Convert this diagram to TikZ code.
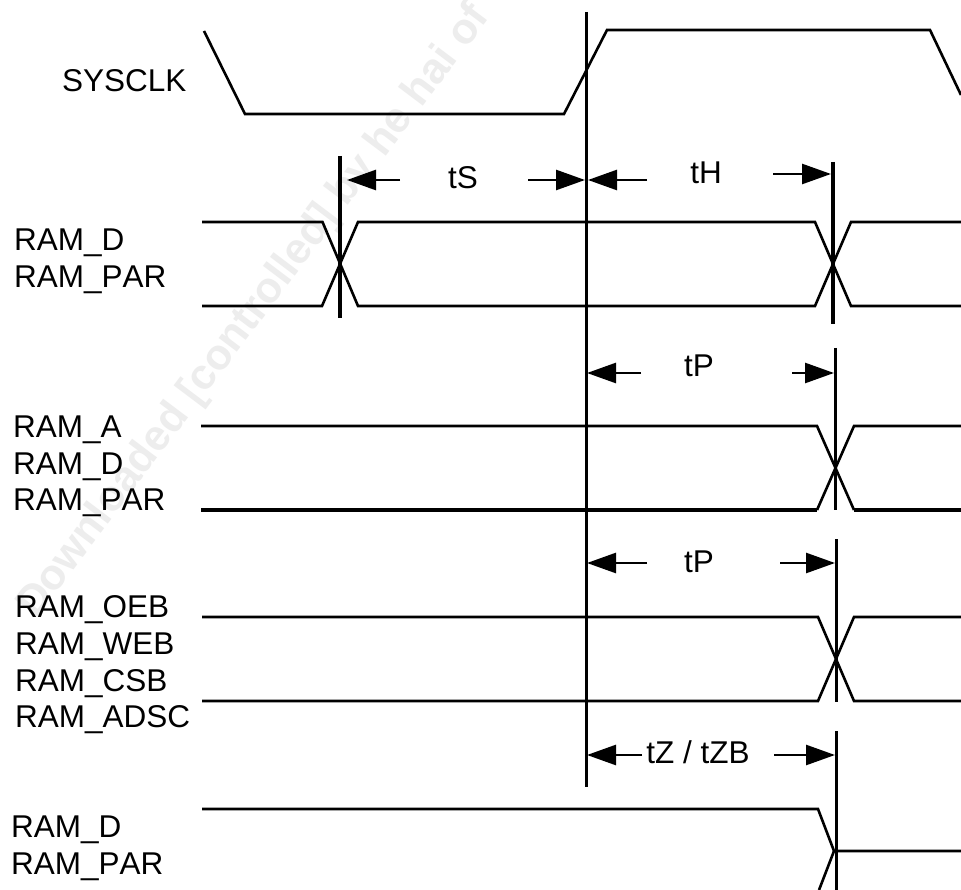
\documentclass[tikz,border=0pt]{standalone}
\usepackage{fontspec}
\setmainfont[Kerning=Off]{Liberation Sans}
\usetikzlibrary{arrows.meta}
\tikzset{
  wave/.style={line width=2.6pt,line join=miter},
  wavethick/.style={line width=3.4pt},
  marker/.style={line width=3pt},
  markerthick/.style={line width=3.3pt},
  dim/.style={line width=2.6pt,-{Triangle[length=29pt,width=20pt]}},
  lab/.style={anchor=base west,inner sep=0pt,font=\fontsize{31.5}{36}\selectfont},
  tim/.style={anchor=base,inner sep=0pt,font=\fontsize{31.5}{36}\selectfont},
  wm/.style={text=black!7,font=\bfseries\fontsize{43}{46}\selectfont,rotate=53,anchor=base west,inner sep=0pt}
}
\begin{document}
\begin{tikzpicture}[x=1pt,y=-1pt]
\useasboundingbox (0,0) rectangle (961,890);
\fill[white] (0,0) rectangle (961,890);
\node[wm] (wmark) at (36,620) {Downloaded [controlled] by he hai of};
% labels
\node[lab] (l1) at (62,92) {SYSCLK};
\node[lab] (l2) at (14,251) {RAM\_D};
\node[lab] (l3) at (14,288) {RAM\_PAR};
\node[lab] (l4) at (13,437) {RAM\_A};
\node[lab] (l5) at (13,474) {RAM\_D};
\node[lab] (l6) at (13,510) {RAM\_PAR};
\node[lab] (l7) at (15,617) {RAM\_OEB};
\node[lab] (l8) at (15,654) {RAM\_WEB};
\node[lab] (l9) at (15,691) {RAM\_CSB};
\node[lab] (l10) at (15,727) {RAM\_ADSC};
\node[lab] (l11) at (11,837) {RAM\_D};
\node[lab] (l12) at (11,874) {RAM\_PAR};
% clock
\draw[wave] (204,31) -- (245,114) -- (564,114) -- (607,30) -- (930,30) -- (961,95);
% RAM_D / RAM_PAR setup-hold
\draw[wave] (202,222) -- (322.5,222) -- (358,306) -- (815,306) -- (851,222) -- (961,222);
\draw[wave] (202,306) -- (322,306) -- (358,222) -- (815,222) -- (851,306) -- (961,306);
% RAM_A group
\draw[wave] (201,426) -- (817,426) -- (854,510);
\draw[wavethick] (854,510) -- (961,510);
\draw[wavethick] (201,510) -- (817,510);
\draw[wave] (817,510) -- (854,426) -- (961,426);
% RAM_OEB group
\draw[wave] (202,617) -- (818,617) -- (854,701) -- (961,701);
\draw[wave] (202,701) -- (818,701) -- (854,617) -- (961,617);
% tZ
\draw[wave] (202,809) -- (818,809) -- (834,851) -- (961,851);
\draw[wave] (834,851) -- (819,890);
% markers
\coordinate (m0t) at (586.5,12);
\coordinate (m0b) at (586.5,787);
\draw[marker] (m0t) -- (m0b);
\coordinate (s1t) at (340,156);
\coordinate (s1b) at (340,318);
\draw[markerthick] (s1t) -- (s1b);
\coordinate (h1t) at (833,162);
\coordinate (h1b) at (833,324);
\draw[markerthick] (h1t) -- (h1b);
\coordinate (p1t) at (835,348);
\coordinate (p1b) at (835,510);
\draw[marker] (p1t) -- (p1b);
\coordinate (p2t) at (836,539);
\coordinate (p2b) at (836,702);
\draw[marker] (p2t) -- (p2b);
\coordinate (z1t) at (836,731);
\coordinate (z1b) at (836,890);
\draw[marker] (z1t) -- (z1b);
% dimension labels
\node[tim] (ts) at (463,189) {tS};
\node[tim] (th) at (706,184) {tH};
\node[tim] (tp1) at (699,377) {tP};
\node[tim] (tp2) at (699,572) {tP};
\node[tim] (tz) at (698,763) {tZ / tZB};
% dimension arrows
\coordinate (a1) at (400,180); \coordinate (a1e) at (347,180);
\coordinate (a2) at (528,180); \coordinate (a2e) at (585,180);
\coordinate (a3) at (647,180); \coordinate (a3e) at (588,180);
\coordinate (a4) at (773,174); \coordinate (a4e) at (831,174);
\coordinate (a5) at (641,373); \coordinate (a5e) at (587,373);
\coordinate (a6) at (792,373); \coordinate (a6e) at (834,373);
\coordinate (a7) at (647,563); \coordinate (a7e) at (587,563);
\coordinate (a8) at (780,563); \coordinate (a8e) at (835,563);
\coordinate (a9) at (642,755); \coordinate (a9e) at (587,755);
\coordinate (a10) at (774,755); \coordinate (a10e) at (835,755);
\foreach \s/\e in {a1/a1e,a2/a2e,a3/a3e,a4/a4e,a5/a5e,a6/a6e,a7/a7e,a8/a8e,a9/a9e,a10/a10e}
  \draw[dim] (\s) -- (\e);
\end{tikzpicture}
\end{document}
